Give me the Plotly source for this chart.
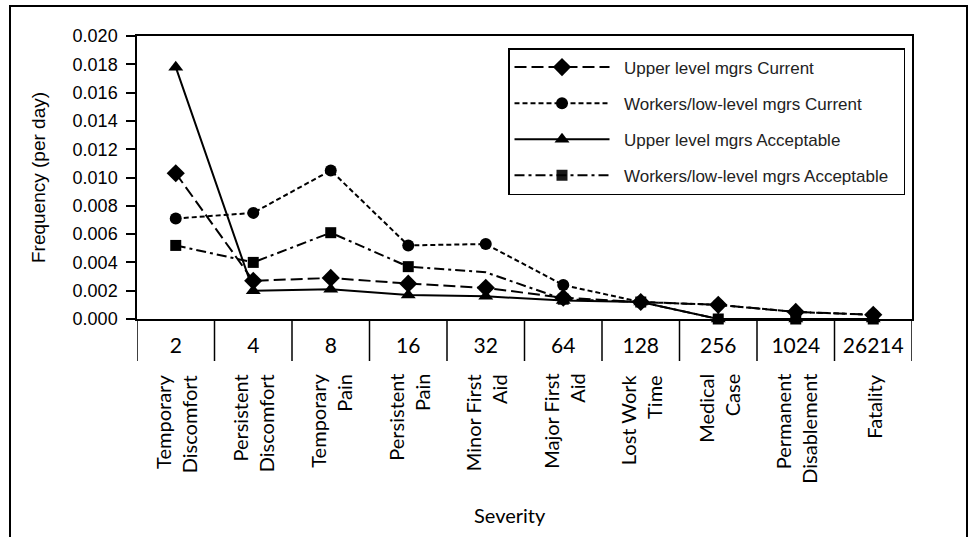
import plotly.graph_objects as go

# ---- data ----
severity = ["2", "4", "8", "16", "32", "64", "128", "256", "1024", "26214"]
severity_names = ["Temporary<br>Discomfort", "Persistent<br>Discomfort", "Temporary<br>Pain",
                  "Persistent<br>Pain", "Minor First<br>Aid", "Major First<br>Aid",
                  "Lost Work<br>Time", "Medical<br>Case", "Permanent<br>Disablement", "Fatality"]
upper_current = [0.0103, 0.0027, 0.0029, 0.0025, 0.0022, 0.0015, 0.0012, 0.0010, 0.0005, 0.0003]
workers_current = [0.0071, 0.0075, 0.0105, 0.0052, 0.0053, 0.0024, 0.0012, 0.0010, 0.0005, 0.0003]
upper_acceptable = [0.0178, 0.0020, 0.0021, 0.0017, 0.0016, 0.0013, 0.0012, 0.0000, 0.0000, 0.0000]
workers_acceptable = [0.0052, 0.0040, 0.0061, 0.0037, 0.0033, 0.0014, 0.0012, 0.0000, 0.0000, 0.0000]
y_ticks = [0.000, 0.002, 0.004, 0.006, 0.008, 0.010, 0.012, 0.014, 0.016, 0.018, 0.020]

SANS = "Liberation Sans, Arial, sans-serif"
CAL = "Lato, Carlito, Calibri, sans-serif"
NB = "\u00a0"

fig = go.Figure()

def add(name, y, symbol, size, dash, group, opac=None):
    fig.add_trace(go.Scatter(
        x=severity, y=y, name=name, mode="lines+markers",
        line=dict(color="black", width=2, dash=dash),
        marker=dict(color="black", symbol=symbol, size=size,
                    opacity=opac if opac is not None else 1),
        cliponaxis=False, legendgroup=group,
    ))

add(NB * 2 + "Upper level mgrs Current", upper_current, "diamond", 14, "12px,5px", "a")
add(NB * 2 + "Workers/low-level mgrs Current", workers_current, "circle", 12, "5px,3px", "b")
add(NB * 2 + "Upper level mgrs Acceptable", upper_acceptable, "triangle-up", 13, "solid", "c")
add(NB * 2 + "Workers/low-level mgrs Acceptable" + NB * 2, workers_acceptable, "square", 11,
    "10px,4px,3px,4px", "d", opac=[1, 1, 1, 1, 0, 1, 1, 1, 1, 1])

# plot geometry (px)
L, R, T, B = 137, 912, 36, 319
W, H = R - L, B - T

shapes = []
# table dividers below the plot
for i in range(len(severity) + 1):
    shapes.append(dict(type="line", xref="x", yref="paper", x0=i - 0.5, x1=i - 0.5,
                       y0=0, y1=-(361 - B) / H, line=dict(color="black", width=1.5)))
# outer frame
shapes.append(dict(type="rect", xref="paper", yref="paper",
                   x0=(10 - L) / W, x1=(967 - L) / W, y0=-(560 - B) / H, y1=(B - 6) / H,
                   line=dict(color="black", width=2), fillcolor="rgba(0,0,0,0)"))

annotations = []
for i, nm in enumerate(severity_names):
    annotations.append(dict(x=i, y=0, xref="x", yref="paper", text=nm, showarrow=False,
                            textangle=-90, align="right", xanchor="center", yanchor="top",
                            yshift=-(372 - B), font=dict(family=CAL, size=20, color="black")))
annotations.append(dict(x=(510 - L) / W, y=-(515 - B) / H, xref="paper", yref="paper",
                        text="Severity", showarrow=False, xanchor="center", yanchor="middle",
                        font=dict(family=CAL, size=20, color="black")))

fig.update_layout(
    width=970, height=537,
    margin=dict(l=L, r=970 - R, t=T, b=537 - B, pad=0),
    paper_bgcolor="white", plot_bgcolor="white",
    showlegend=True,
    legend=dict(x=(508 - L) / W, y=(B - 48) / H, xanchor="left", yanchor="top",
                bgcolor="white", bordercolor="black", borderwidth=1.5,
                font=dict(family=SANS, size=17, color="#222"),
                itemwidth=95, traceorder="grouped", tracegroupgap=11),
    xaxis=dict(type="category", showline=True, mirror=True, linecolor="black", linewidth=1.5,
               showgrid=False, ticks="", ticklabelstandoff=7, zeroline=False, automargin=False,
               tickfont=dict(family=CAL, size=21, color="black"),
               range=[-0.5, len(severity) - 0.5]),
    yaxis=dict(range=[0, 0.020], tickvals=y_ticks, tickformat=".3f", automargin=False,
               showline=True, mirror=True, linecolor="black", linewidth=1.5,
               showgrid=False, zeroline=False, ticks="outside", ticklen=9, tickwidth=1.5,
               ticklabelstandoff=5,
               tickcolor="black", tickfont=dict(family=SANS, size=18, color="black"),
               title=dict(text="Frequency (per day)", standoff=22,
                          font=dict(family=SANS, size=19, color="black"))),
    shapes=shapes, annotations=annotations,
)

fig.write_html("out.html", config={"displayModeBar": False},
               post_script="document.body.style.margin='0px';")
